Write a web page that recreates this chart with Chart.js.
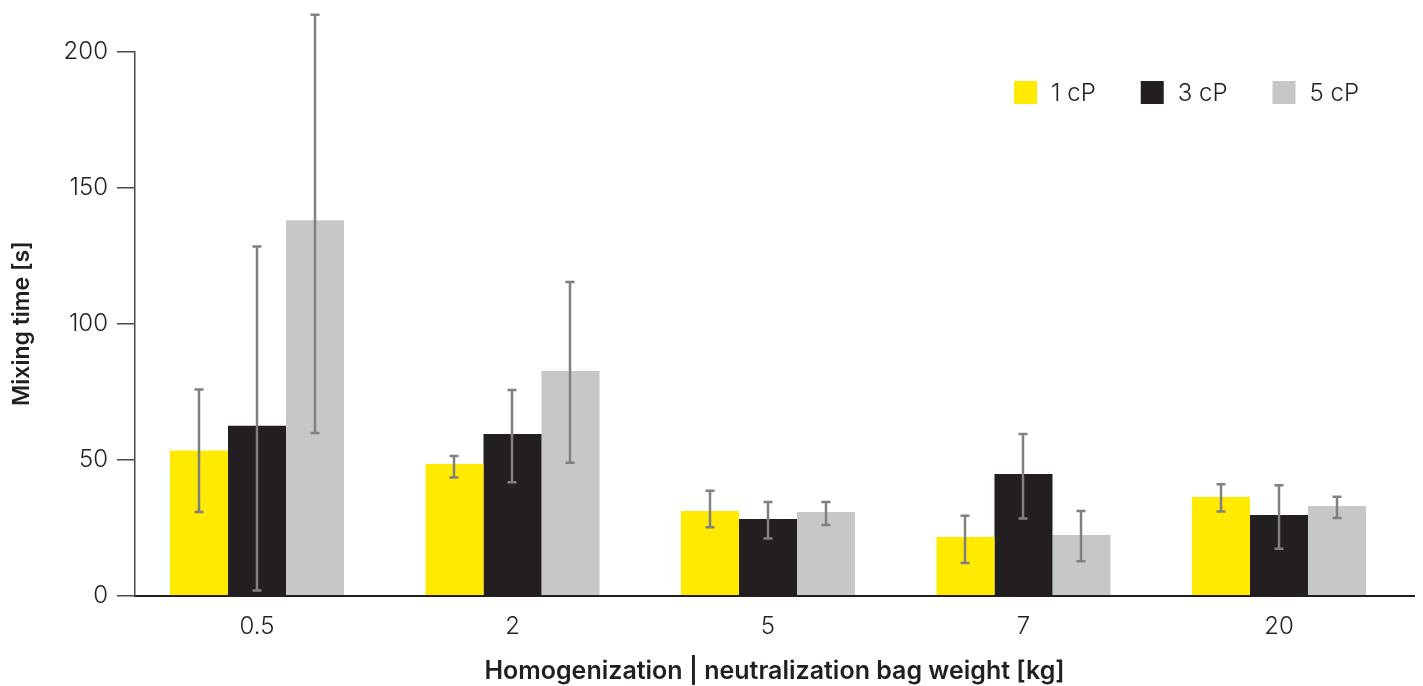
<!DOCTYPE html>
<html>
<head>
<meta charset="utf-8">
<script src="https://cdn.jsdelivr.net/npm/chart.js@4/dist/chart.umd.min.js"></script>
<style>
  html, body { margin: 0; padding: 0; background: #ffffff; }
  #wrap { width: 1423px; height: 686px; }
</style>
</head>
<body>
<div id="wrap"><canvas id="chart" width="1423" height="686"></canvas></div>
<script>
// Bag weights [kg] on the x axis
const categories = ['0.5', '2', '5', '7', '20'];
const seriesNames = ['1 cP', '3 cP', '5 cP'];

// Mean mixing time [s] per viscosity
const mean1cP = [53.4, 48.4, 31.1, 21.6, 36.3];
const mean3cP = [62.5, 59.4, 28.2, 44.7, 29.7];
const mean5cP = [138.0, 82.6, 30.8, 22.3, 33.0];

// Lower / upper ends of the error bars [s]
const low1cP = [30.8, 43.4, 25.2, 12.0, 30.9];
const high1cP = [75.8, 51.3, 38.6, 29.4, 41.0];
const low3cP = [1.9, 41.7, 21.0, 28.4, 17.3];
const high3cP = [128.3, 75.6, 34.4, 59.4, 40.6];
const low5cP = [59.8, 48.9, 26.0, 12.7, 28.6];
const high5cP = [213.5, 115.3, 34.4, 31.1, 36.4];

const yTicks = [0, 50, 100, 150, 200];

const INK = '#231f20';
const FONT = 'Inter, "Open Sans", "DejaVu Sans", sans-serif';
const colors = ['#ffea00', '#231f20', '#c6c7c9'];

// Whiskers with small caps on top of every bar
const errorBars = {
  id: 'errorBars',
  afterDatasetsDraw(chart) {
    const { ctx, scales: { y } } = chart;
    ctx.save();
    ctx.strokeStyle = '#808080';
    ctx.lineWidth = 2.5;
    ctx.lineCap = 'butt';
    chart.data.datasets.forEach((ds, i) => {
      const meta = chart.getDatasetMeta(i);
      meta.data.forEach((bar, j) => {
        const x = Math.round(bar.x);
        const yHi = y.getPixelForValue(ds.errHigh[j]);
        const yLo = y.getPixelForValue(ds.errLow[j]);
        const cap = 4.5;
        ctx.beginPath();
        ctx.moveTo(x, yHi);
        ctx.lineTo(x, yLo);
        ctx.moveTo(x - cap, yHi);
        ctx.lineTo(x + cap, yHi);
        ctx.moveTo(x - cap, yLo);
        ctx.lineTo(x + cap, yLo);
        ctx.stroke();
      });
    });
    ctx.restore();
  }
};

// Legend row in the upper right of the plot
const boxLegend = {
  id: 'boxLegend',
  afterDraw(chart) {
    const { ctx, chartArea } = chart;
    const box = 23, gapText = 14, gapItem = 45;
    ctx.save();
    ctx.font = '300 24px ' + FONT;
    ctx.textBaseline = 'middle';
    const items = chart.data.datasets.map(ds => ({
      label: ds.label, color: ds.backgroundColor, w: ctx.measureText(ds.label).width
    }));
    const total = items.reduce((s, it) => s + box + gapText + it.w, 0) + gapItem * (items.length - 1);
    let x = chartArea.right - 55 - total;
    const top = chartArea.top + 29.5;
    items.forEach(it => {
      ctx.fillStyle = it.color;
      ctx.fillRect(x, top, box, box);
      ctx.fillStyle = INK;
      ctx.fillText(it.label, x + box + gapText, top + box / 2 + 1);
      x += box + gapText + it.w + gapItem;
    });
    ctx.restore();
  }
};

new Chart(document.getElementById('chart'), {
  type: 'bar',
  data: {
    labels: categories,
    datasets: [
      { label: seriesNames[0], data: mean1cP, errLow: low1cP, errHigh: high1cP, backgroundColor: colors[0] },
      { label: seriesNames[1], data: mean3cP, errLow: low3cP, errHigh: high3cP, backgroundColor: colors[1] },
      { label: seriesNames[2], data: mean5cP, errLow: low5cP, errHigh: high5cP, backgroundColor: colors[2] }
    ]
  },
  options: {
    responsive: false,
    animation: false,
    devicePixelRatio: 1,
    layout: { padding: { top: 51.5, right: 9, left: 0, bottom: 0 } },
    datasets: { bar: { categoryPercentage: 0.681, barPercentage: 1.0, borderWidth: 0 } },
    plugins: { legend: { display: false }, tooltip: { enabled: false } },
    scales: {
      x: {
        offset: true,
        grid: { display: false, drawTicks: false },
        border: { display: true, color: INK, width: 2 },
        ticks: { color: INK, padding: 17, font: { family: FONT, size: 24, weight: 300 } },
        title: {
          display: true,
          text: 'Homogenization | neutralization bag weight [kg]',
          color: INK,
          font: { family: FONT, size: 25, weight: 600 },
          padding: { top: 0, bottom: 0 }
        },
        afterBuildTicks(scale) {
          // slightly wider lead-in on the left than the right
          scale._startValue = -0.4775;
          scale._valueRange = 5.006;
        },
        afterFit(scale) { scale.height = 90.3; }
      },
      y: {
        min: 0,
        max: 200,
        grid: { drawOnChartArea: false, drawTicks: true, tickLength: 18, color: '#4a4a4a', lineWidth: 1.5 },
        border: { display: true, color: '#4a4a4a', width: 1.5 },
        ticks: { color: INK, padding: 9, font: { family: FONT, size: 24, weight: 300 } },
        title: {
          display: true,
          text: 'Mixing time [s]',
          color: INK,
          font: { family: FONT, size: 23, weight: 600 },
          padding: { top: 8, bottom: 0 }
        },
        afterBuildTicks(scale) { scale.ticks = yTicks.map(v => ({ value: v })); },
        afterFit(scale) { scale.width = 135; }
      }
    }
  },
  plugins: [errorBars, boxLegend]
});
</script>
</body>
</html>
